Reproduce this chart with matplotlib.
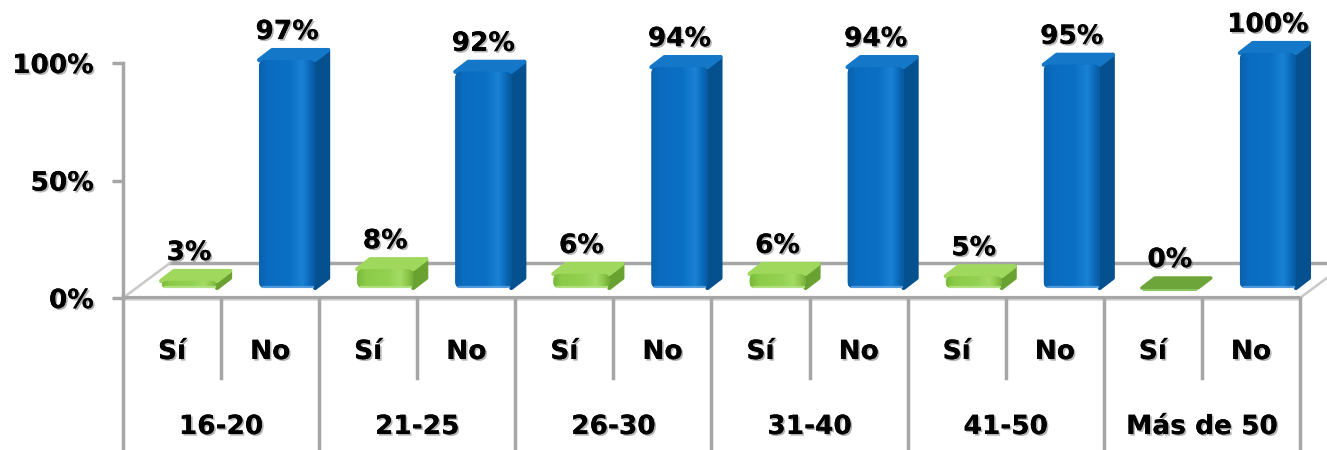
import matplotlib
matplotlib.use("Agg")
import matplotlib.pyplot as plt
import matplotlib.patheffects as pe
from matplotlib.patches import FancyBboxPatch, Polygon
from matplotlib.colors import LinearSegmentedColormap
import numpy as np

# ---- data -------------------------------------------------------------
grupos = ["16-20", "21-25", "26-30", "31-40", "41-50", "Más de 50"]
respuestas = ["Sí", "No"]
si = [3, 8, 6, 6, 5, 0]
no = [97, 92, 94, 94, 95, 100]
yticks = [0, 50, 100]
ytick_labels = ["0%", "50%", "100%"]

# ---- figure / axes geometry -------------------------------------------
W_PX, H_PX, DPI = 1327, 450, 100
fig = plt.figure(figsize=(W_PX / DPI, H_PX / DPI), dpi=DPI)
ax = fig.add_axes([0, 0, 1, 1])

X0_PX, Y0_PX = 123.0, 298.0          # pixel of (x=0, y=0%)
PX_PER_X, PX_PER_Y = 98.08, 2.35      # pixels per category / per percent
XLIM = (-X0_PX / PX_PER_X, (W_PX - X0_PX) / PX_PER_X)
YLIM = ((Y0_PX - H_PX) / PX_PER_Y, Y0_PX / PX_PER_Y)
ax.set_xlim(*XLIM)
ax.set_ylim(*YLIM)

ux = 1.0 / PX_PER_X   # data x per pixel
uy = 1.0 / PX_PER_Y   # data y per pixel

GRAY = "#a6a6a6"
FONT = dict(family="DejaVu Sans", fontweight="bold", fontsize=19, color="black")
SHADOW = [pe.withSimplePatchShadow(offset=(1.2, -1.2), shadow_rgbFace="#777777", alpha=0.55),
          pe.Normal()]

n_cat = len(grupos) * len(respuestas)
DEPTH_X, DEPTH_Y = 47 * ux, 35 * uy   # floor depth vector

# ---- y axis (left spine) ---------------------------------------------
for side in ("top", "right", "bottom"):
    ax.spines[side].set_visible(False)
ax.spines["left"].set_position(("data", 0))
ax.spines["left"].set_bounds(0, 100)
ax.spines["left"].set_color(GRAY)
ax.spines["left"].set_linewidth(2.5)
ax.set_yticks(yticks)
ax.set_yticklabels(ytick_labels)
ax.tick_params(axis="y", direction="out", length=8, width=2.5, color=GRAY, pad=13)
for lbl in ax.get_yticklabels():
    lbl.set_fontfamily(FONT["family"])
    lbl.set_fontweight("bold")
    lbl.set_fontsize(FONT["fontsize"])
    lbl.set_path_effects(SHADOW)
ax.set_xticks([])

# ---- floor --------------------------------------------------------------
ax.plot([0, n_cat], [0, 0], color=GRAY, lw=3, solid_capstyle="butt", zorder=2, clip_on=False)
ax.plot([0, n_cat], [-2.2 * uy, -2.2 * uy], color="#d9d9d9", lw=1.2, zorder=2, clip_on=False)
ax.plot([DEPTH_X, n_cat + DEPTH_X], [DEPTH_Y, DEPTH_Y], color=GRAY, lw=2.5, zorder=1, clip_on=False)
ax.plot([0, DEPTH_X], [0, DEPTH_Y], color="#c8c8c8", lw=1.8, zorder=1, clip_on=False)
ax.plot([n_cat, n_cat + DEPTH_X], [0, DEPTH_Y], color="#c8c8c8", lw=1.8, zorder=1, clip_on=False)

# ---- category axis (two levels) ----------------------------------------
short_end = -80 * uy
for k in range(n_cat + 1):
    y_end = YLIM[0] if k % 2 == 0 else short_end
    ax.plot([k, k], [0, y_end], color=GRAY, lw=2.5, zorder=2, clip_on=False)

for k in range(n_cat):
    ax.text(k + 0.5, -54 * uy, respuestas[k % 2], ha="center", va="center",
            path_effects=SHADOW, **FONT)
for g, name in enumerate(grupos):
    ax.text(2 * g + 1, -129 * uy, name, ha="center", va="center",
            path_effects=SHADOW, **FONT)

# ---- bars ----------------------------------------------------------------
FACE_W = 56 * ux      # front face width
SHIFT_X = 17 * ux     # front face shift into the floor
BASE_Y = 10 * uy      # front face bottom above floor edge
DX, DY = 13 * ux, 10 * uy   # bar depth vector
ROUND = 6 * ux
ASPECT = PX_PER_X / PX_PER_Y

styles = {
    "Sí": dict(front=["#7aba3c", "#8ccb48", "#93d152", "#a4dc64", "#8ac648", "#76b038"],
               top="#9fd85d", side="#6aa232", flat="#6ea53a", rim="#b8e68a"),
    "No": dict(front=["#0b62ac", "#0a6cc0", "#0b70c4", "#1a82d4", "#0a68ba", "#07599e"],
               top="#1577c7", side="#05508f", flat="#0a6cc0", rim="#62a6e4"),
}


def draw_bar(xc, value, st, z):
    x0 = xc + SHIFT_X - FACE_W / 2
    x1 = x0 + FACE_W
    y0 = BASE_Y
    y1 = y0 + value
    if value <= 0:
        slab = Polygon([(x0, y0), (x0 + DX, y0 + DY), (x1 + DX, y0 + DY), (x1, y0)],
                       closed=True, facecolor=st["flat"], edgecolor=st["flat"],
                       lw=2.5, joinstyle="round", zorder=z, clip_on=False)
        ax.add_patch(slab)
        ax.plot([x0 + 2 * ux, x1 - 2 * ux], [y0 - 1.5 * uy, y0 - 1.5 * uy],
                color="#8cc860", lw=1.5, zorder=z + 0.1, clip_on=False)
        return
    side = Polygon([(x1, y0), (x1 + DX, y0 + DY), (x1 + DX, y1 + DY), (x1, y1)],
                   closed=True, facecolor=st["side"], edgecolor=st["side"],
                   lw=3, joinstyle="round", zorder=z, clip_on=False)
    top = Polygon([(x0, y1), (x0 + DX, y1 + DY), (x1 + DX, y1 + DY), (x1, y1)],
                  closed=True, facecolor=st["top"], edgecolor=st["top"],
                  lw=3, joinstyle="round", zorder=z + 0.1, clip_on=False)
    ax.add_patch(side)
    ax.add_patch(top)
    front = FancyBboxPatch((x0, y0), FACE_W, value,
                           boxstyle=f"round,pad=0,rounding_size={ROUND}",
                           mutation_aspect=ASPECT, facecolor=st["front"][2],
                           edgecolor="none", zorder=z + 0.2, clip_on=False)
    ax.add_patch(front)
    cmap = LinearSegmentedColormap.from_list(
        "face", list(zip([0, 0.15, 0.55, 0.78, 0.92, 1.0], st["front"])))
    grad = np.linspace(0, 1, 64)[None, :]
    im = ax.imshow(grad, cmap=cmap, extent=[x0, x1, y0, y1], aspect="auto",
                   interpolation="bilinear", zorder=z + 0.3)
    im.set_clip_path(front)
    # light rim along the bottom edge of the bar
    ax.plot([x0 + 4 * ux, x1 - 2 * ux], [y0 + 1.2 * uy, y0 + 1.2 * uy], color=st["rim"],
            lw=1.6, alpha=0.8, zorder=z + 0.4, clip_on=False)


for g in range(len(grupos)):
    for r, (resp, vals) in enumerate(zip(respuestas, (si, no))):
        k = 2 * g + r
        v = vals[g]
        draw_bar(k + 0.5, v, styles[resp], z=3 + k * 0.01)
        ax.text(k + 0.5 + SHIFT_X, BASE_Y + v + DY + 18 * uy, f"{v}%",
                ha="center", va="center", zorder=10, path_effects=SHADOW, **FONT)

ax.set_xlim(*XLIM)
ax.set_ylim(*YLIM)

fig.savefig("out.png", dpi=DPI, facecolor="white")
